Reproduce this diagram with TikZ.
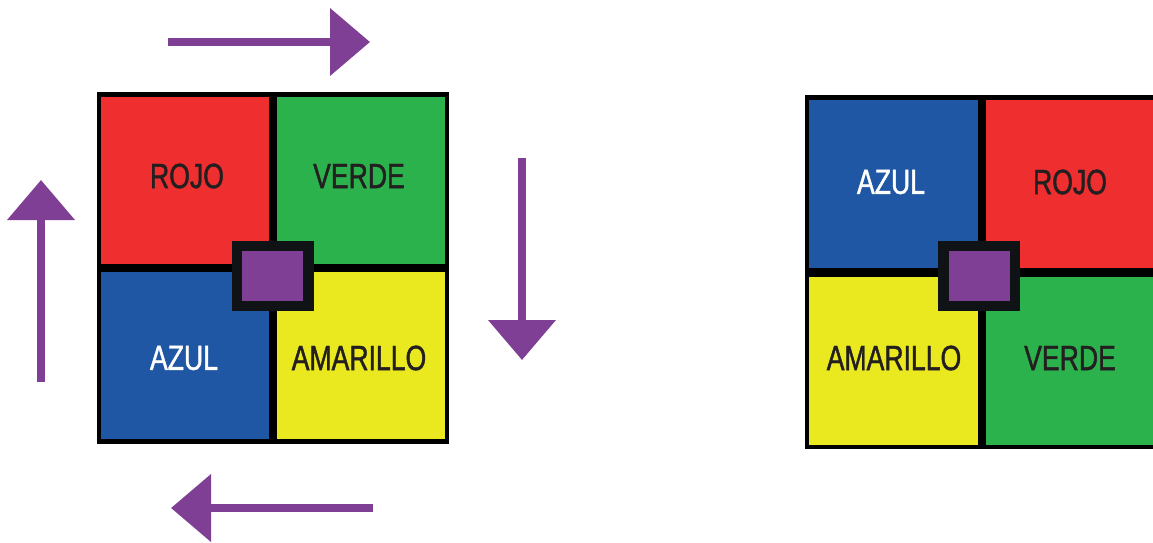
\documentclass[tikz,border=0pt]{standalone}
\usepackage{fontspec}
\newfontfamily\labfont[FakeStretch=0.76,FakeBold=1.2]{Liberation Sans}
\usetikzlibrary{arrows.meta}
\definecolor{cred}{HTML}{EE2E2F}
\definecolor{cgreen}{HTML}{2BB24C}
\definecolor{cblue}{HTML}{1F57A5}
\definecolor{cyellow}{HTML}{EAE81E}
\definecolor{cpurple}{HTML}{7E3F94}
\definecolor{cframe}{HTML}{0F1316}
\definecolor{ctext}{HTML}{231F20}
\tikzset{
  lab/.style={font=\labfont\fontsize{35}{35}\selectfont, text=ctext, inner sep=0pt, anchor=center},
  labw/.style={lab, text=white},
  bigarrow/.style={draw=cpurple, line width=8pt, -{Triangle[width=66pt,length=40pt]}},
}
\begin{document}
\begin{tikzpicture}[x=1pt,y=-1pt]
\useasboundingbox (0,0) rectangle (1153,542);
\fill[white] (0,0) rectangle (1153,542);
% ---- left grid ----
\fill[black] (97,92) rectangle (449,444);
\fill[cred] (101,97) rectangle (269,264);
\fill[cgreen] (277,97) rectangle (445,264);
\fill[cblue] (101,272) rectangle (269,439);
\fill[cyellow] (277,272) rectangle (445,439);
\fill[cframe] (232,241) rectangle (314,311);
\fill[cpurple] (242,251) rectangle (303,301);
\node[lab] (lrojo) at (187,176) {ROJO};
\node[lab] (lverde) at (359,176) {VERDE};
\node[labw] (lazul) at (184,358) {AZUL};
\node[lab] (lamarillo) at (359,358) {AMARILLO};
% ---- right grid ----
\fill[black] (805,95) rectangle (1160,449);
\fill[cblue] (809,100) rectangle (978,268);
\fill[cred] (986,100) rectangle (1156,268);
\fill[cyellow] (809,277) rectangle (978,445);
\fill[cgreen] (986,277) rectangle (1156,445);
\fill[cframe] (938,241) rectangle (1020,311);
\fill[cpurple] (949,251) rectangle (1010,301);
\node[labw] (razul) at (891,182) {AZUL};
\node[lab] (rrojo) at (1070,182) {ROJO};
\node[lab] (ramarillo) at (894,358) {AMARILLO};
\node[lab] (rverde) at (1070,358) {VERDE};
% ---- arrows ----
\coordinate (ta) at (168,42);
\coordinate (tb) at (370,42);
\coordinate (ra) at (522,158);
\coordinate (rb) at (522,360);
\coordinate (ba) at (373,508);
\coordinate (bb) at (171,508);
\coordinate (la) at (41,382);
\coordinate (lb) at (41,180);
\draw[bigarrow] (ta) -- (tb);
\draw[bigarrow] (ra) -- (rb);
\draw[bigarrow] (ba) -- (bb);
\draw[bigarrow] (la) -- (lb);
\end{tikzpicture}
\end{document}
